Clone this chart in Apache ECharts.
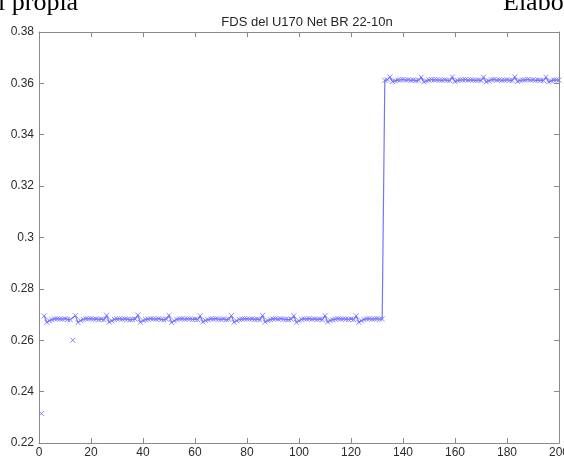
<!DOCTYPE html>
<html>
<head>
<meta charset="utf-8">
<script src="https://cdn.jsdelivr.net/npm/echarts@6/dist/echarts.min.js"></script>
<style>
  html, body { margin: 0; padding: 0; background: #fff; }
  #chart { width: 564px; height: 459px; }
</style>
</head>
<body>
<div id="chart"></div>
<script>
// FDS samples 1..132 (low level, ~0.268)
const lowLevelValues = [
  0.2315, 0.2695, 0.2670, 0.2676, 0.2680, 0.2683, 0.2684, 0.2683, 0.2682, 0.2684,
  0.2681, 0.2680, 0.2600, 0.2696, 0.2669, 0.2677, 0.2681, 0.2684, 0.2683, 0.2684,
  0.2682, 0.2683, 0.2681, 0.2682, 0.2680, 0.2697, 0.2671, 0.2676, 0.2681, 0.2683,
  0.2684, 0.2682, 0.2683, 0.2682, 0.2680, 0.2681, 0.2682, 0.2698, 0.2670, 0.2677,
  0.2680, 0.2682, 0.2684, 0.2683, 0.2682, 0.2684, 0.2681, 0.2680, 0.2682, 0.2697,
  0.2669, 0.2676, 0.2681, 0.2683, 0.2684, 0.2682, 0.2683, 0.2683, 0.2681, 0.2682,
  0.2680, 0.2695, 0.2671, 0.2677, 0.2680, 0.2683, 0.2683, 0.2684, 0.2682, 0.2681,
  0.2683, 0.2680, 0.2681, 0.2696, 0.2670, 0.2676, 0.2681, 0.2682, 0.2684, 0.2683,
  0.2682, 0.2683, 0.2681, 0.2682, 0.2680, 0.2697, 0.2671, 0.2677, 0.2680, 0.2683,
  0.2684, 0.2682, 0.2684, 0.2682, 0.2681, 0.2680, 0.2682, 0.2695, 0.2670, 0.2676,
  0.2681, 0.2683, 0.2683, 0.2684, 0.2682, 0.2683, 0.2681, 0.2682, 0.2680, 0.2696,
  0.2671, 0.2677, 0.2680, 0.2682, 0.2684, 0.2683, 0.2683, 0.2682, 0.2681, 0.2683,
  0.2680, 0.2695, 0.2670, 0.2676, 0.2681, 0.2683, 0.2684, 0.2682, 0.2683, 0.2684,
  0.2682, 0.2683
];

// FDS samples 133..200 (high level, ~0.361)
const highLevelValues = [
  0.3612, 0.3614, 0.3625, 0.3607, 0.3610, 0.3613, 0.3614, 0.3615, 0.3613, 0.3614,
  0.3612, 0.3613, 0.3611, 0.3612, 0.3624, 0.3606, 0.3610, 0.3613, 0.3615, 0.3614,
  0.3614, 0.3613, 0.3612, 0.3614, 0.3612, 0.3611, 0.3625, 0.3607, 0.3611, 0.3613,
  0.3614, 0.3615, 0.3613, 0.3614, 0.3613, 0.3612, 0.3613, 0.3611, 0.3624, 0.3606,
  0.3610, 0.3614, 0.3615, 0.3613, 0.3614, 0.3612, 0.3613, 0.3614, 0.3612, 0.3611,
  0.3625, 0.3607, 0.3611, 0.3613, 0.3614, 0.3615, 0.3613, 0.3614, 0.3612, 0.3613,
  0.3612, 0.3611, 0.3624, 0.3606, 0.3610, 0.3613, 0.3614, 0.3613
];

// Sample numbers that are isolated readings, left out of the connecting line
const outlierSamples = [1, 13];

const xTicks = { min: 0, max: 200, interval: 20 };
const yTicks = { min: 0.22, max: 0.38, interval: 0.02 };

const fdsValues = lowLevelValues.concat(highLevelValues);
const markerData = fdsValues.map((v, i) => [i + 1, v]);
const lineData = fdsValues.map((v, i) =>
  outlierSamples.indexOf(i + 1) >= 0 ? [i + 1, null] : [i + 1, v]);

const axisGray = '#8a8a8a';
const labelColor = '#2b2b2b';
const blue = '#7474ff';

const chart = echarts.init(document.getElementById('chart'), null, { renderer: 'canvas' });

const frameAxis = {
  axisLine: { show: true, onZero: false, lineStyle: { color: axisGray, width: 1 } },
  axisTick: { show: true, inside: true, length: 5, lineStyle: { color: axisGray } },
  splitLine: { show: false },
  axisLabel: { show: false }
};

chart.setOption({
  animation: false,
  backgroundColor: '#ffffff',
  title: {
    text: 'FDS del U170 Net BR 22-10n',
    left: 302, top: 11,
    textAlign: 'center',
    textStyle: { fontFamily: 'Liberation Sans, Arial', fontSize: 13, fontWeight: 'normal', color: '#262626' }
  },
  graphic: [
    {
      type: 'text', left: -2, top: -10,
      style: { text: 'l propia', font: '26px "Liberation Serif", "Times New Roman", serif', fill: '#000' }
    },
    {
      type: 'text', left: 503, top: -10,
      style: { text: 'Elabo', font: '26px "Liberation Serif", "Times New Roman", serif', fill: '#000' }
    }
  ],
  grid: { left: 39, right: 5, top: 32, bottom: 16, containLabel: false, outerBoundsMode: 'none' },
  xAxis: [
    Object.assign({}, frameAxis, {
      type: 'value', position: 'bottom',
      min: xTicks.min, max: xTicks.max, interval: xTicks.interval,
      axisLabel: {
        show: true, margin: 4, color: labelColor, hideOverlap: false,
        fontFamily: 'Liberation Sans, Arial', fontSize: 12
      }
    }),
    Object.assign({}, frameAxis, {
      type: 'value', position: 'top',
      min: xTicks.min, max: xTicks.max, interval: xTicks.interval
    })
  ],
  yAxis: [
    Object.assign({}, frameAxis, {
      type: 'value', position: 'left',
      min: yTicks.min, max: yTicks.max, interval: yTicks.interval,
      axisLabel: {
        show: true, margin: 5, color: labelColor,
        fontFamily: 'Liberation Sans, Arial', fontSize: 12,
        formatter: v => String(+v.toFixed(2))
      }
    }),
    Object.assign({}, frameAxis, {
      type: 'value', position: 'right',
      min: yTicks.min, max: yTicks.max, interval: yTicks.interval
    })
  ],
  series: [
    {
      name: 'FDS line',
      type: 'line',
      data: lineData,
      connectNulls: true,
      showSymbol: false,
      lineStyle: { color: blue, width: 1.2 },
      z: 2
    },
    {
      name: 'FDS samples',
      type: 'scatter',
      data: markerData,
      symbol: 'path://M0,0L10,10M10,0L0,10',
      symbolSize: 5,
      itemStyle: { color: 'rgba(0,0,0,0)', borderColor: blue, borderWidth: 1, opacity: 0.85 },
      z: 3
    }
  ]
});
</script>
</body>
</html>
